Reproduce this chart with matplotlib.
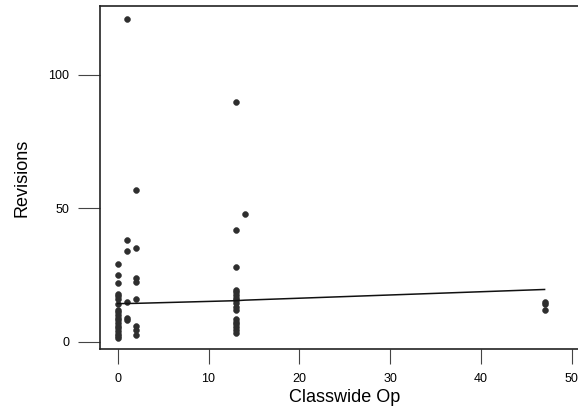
import matplotlib
matplotlib.use("Agg")
import matplotlib.pyplot as plt

plt.rcParams["font.family"] = ["Liberation Sans", "DejaVu Sans"]

# scatter data: Classwide Op vs Revisions
op_0 = [29, 25, 22, 18, 17, 16, 14, 12, 11, 10, 9, 8, 7, 6, 5, 4, 3, 2, 1.5]
op_1 = [121, 38, 34, 15, 9, 8]
op_2 = [57, 35, 24, 22.5, 16, 6, 4.5, 2.5]
op_13 = [90, 42, 28, 19.5, 18.5, 17.5, 16.5, 15.5, 14.5, 13, 12, 8.5, 7.5, 6.5, 5.5, 4.5, 3.2]
op_14 = [48]
op_47 = [15, 14, 12]

# smoothed fit line
fit_x = [0, 2, 13, 14, 47]
fit_y = [14.3, 14.4, 15.4, 15.6, 19.6]

xs, ys = [], []
for xv, vals in [(0, op_0), (1, op_1), (2, op_2), (13, op_13), (14, op_14), (47, op_47)]:
    xs += [xv] * len(vals)
    ys += vals

fig = plt.figure(figsize=(5.78, 4.13), dpi=100)
ax = fig.add_axes([100 / 578, 64 / 413, 490 / 578, 343 / 413])

ax.plot(xs, ys, "o", color="#2e2e2e", markersize=4.2, markeredgewidth=0.4)
ax.plot(fit_x, fit_y, color="#111111", linewidth=1.1)

ax.set_xlim(-1.95, 52)
ax.set_ylim(-2.7, 125.8)
ax.set_xticks([0, 10, 20, 30, 40, 50])
ax.set_yticks([0, 50, 100])

for s in ax.spines.values():
    s.set_color("#222222")
    s.set_linewidth(1.2)

ax.tick_params(axis="x", length=11, width=0.8, color="#444444", pad=6, labelsize=9)
ax.tick_params(axis="y", length=16, width=0.8, color="#444444", pad=6, labelsize=9)

ax.set_xlabel("Classwide Op", fontsize=13, labelpad=3)
ax.set_ylabel("Revisions", fontsize=13, labelpad=13)

fig.savefig("out.png", dpi=100)
